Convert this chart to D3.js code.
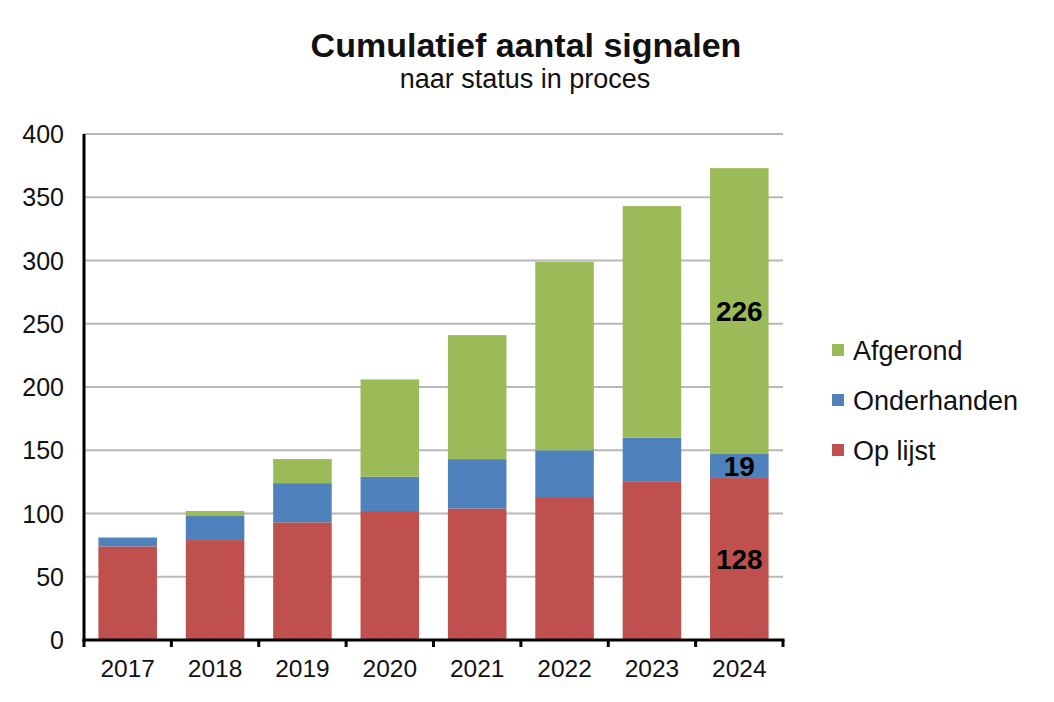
<!DOCTYPE html>
<html><head><meta charset="utf-8">
<script src="https://cdn.jsdelivr.net/npm/d3@7"></script>
<style>body{margin:0;background:#fff}svg{display:block}text{font-family:"Liberation Sans",Arial,sans-serif}</style>
</head><body><svg id="c" width="1054" height="702"></svg>
<script>
const years = ["2017","2018","2019","2020","2021","2022","2023","2024"];
const opLijst = [74, 79, 93, 102, 104, 113, 125, 128];
const onderhanden = [7, 19, 31, 27, 39, 37, 35, 19];
const afgerond = [0, 4, 19, 77, 98, 149, 183, 226];
const seriesNames = ["Op lijst", "Onderhanden", "Afgerond"];
const seriesColors = ["#C0504D", "#4F81BD", "#9BBB59"];
const yTicks = [0, 50, 100, 150, 200, 250, 300, 350, 400];
const labelled = {"2024": true};

const svg = d3.select("#c");
const m = {l: 84, r: 271, t: 134, b: 62};
const W = 1054, H = 702;
const x = d3.scaleBand().domain(years).range([m.l, W - m.r]).paddingInner(0.33).paddingOuter(0.165);
const y = d3.scaleLinear().domain([0, 400]).range([H - m.b, m.t]);

const rows = years.map((yr, i) => ({year: yr, "Op lijst": opLijst[i], "Onderhanden": onderhanden[i], "Afgerond": afgerond[i]}));
const stack = d3.stack().keys(seriesNames)(rows);

// gridlines
svg.append("g").selectAll("line").data(yTicks.filter(d => d > 0)).join("line")
  .attr("x1", m.l).attr("x2", W - m.r).attr("y1", d => y(d)).attr("y2", d => y(d))
  .attr("stroke", "#b8b8b8").attr("stroke-width", 2);

// bars
stack.forEach((s, si) => {
  svg.append("g").attr("fill", seriesColors[si]).selectAll("rect").data(s).join("rect")
    .attr("x", d => x(d.data.year)).attr("width", x.bandwidth())
    .attr("y", d => y(d[1])).attr("height", d => y(d[0]) - y(d[1]));
  svg.append("g").selectAll("text").data(s.filter(d => labelled[d.data.year])).join("text")
    .attr("x", d => x(d.data.year) + x.bandwidth() / 2)
    .attr("y", d => (y(d[0]) + y(d[1])) / 2)
    .attr("dy", "0.36em").attr("text-anchor", "middle")
    .attr("font-size", 28).attr("font-weight", "bold").attr("fill", "#000")
    .text(d => d[1] - d[0]);
});

// axes
svg.append("line").attr("x1", m.l).attr("x2", m.l).attr("y1", m.t).attr("y2", H - m.b + 1.5)
  .attr("stroke", "#000").attr("stroke-width", 3);
svg.append("line").attr("x1", m.l - 1.5).attr("x2", W - m.r + 1.5).attr("y1", H - m.b).attr("y2", H - m.b)
  .attr("stroke", "#000").attr("stroke-width", 3);
const bounds = d3.range(years.length + 1).map(i => m.l + i * (W - m.r - m.l) / years.length);
svg.append("g").selectAll("line").data(bounds).join("line")
  .attr("x1", d => d).attr("x2", d => d).attr("y1", H - m.b).attr("y2", H - m.b + 7)
  .attr("stroke", "#000").attr("stroke-width", 3);

// y labels
svg.append("g").selectAll("text").data(yTicks).join("text")
  .attr("x", 64).attr("y", d => y(d)).attr("dy", "0.36em").attr("text-anchor", "end")
  .attr("font-size", 25).attr("fill", "#111").text(d => d);
// x labels
svg.append("g").selectAll("text").data(years).join("text")
  .attr("x", d => x(d) + x.bandwidth() / 2).attr("y", H - m.b + 37).attr("text-anchor", "middle")
  .attr("font-size", 24.5).attr("fill", "#111").text(d => d);

// title
svg.append("text").attr("x", 526).attr("y", 57).attr("text-anchor", "middle")
  .attr("font-size", 34).attr("font-weight", "bold").attr("fill", "#111").text("Cumulatief aantal signalen");
svg.append("text").attr("x", 525).attr("y", 88).attr("text-anchor", "middle")
  .attr("font-size", 27).attr("fill", "#111").text("naar status in proces");

// legend
const legendOrder = [2, 1, 0];
const lg = svg.append("g").selectAll("g").data(legendOrder).join("g")
  .attr("transform", (d, i) => `translate(832, ${350 + i * 50})`);
lg.append("rect").attr("x", 0).attr("y", -6).attr("width", 12).attr("height", 12).attr("fill", d => seriesColors[d]);
lg.append("text").attr("x", 21).attr("y", 0).attr("dy", "0.36em").attr("font-size", 27).attr("fill", "#111")
  .text(d => seriesNames[d]);
</script></body></html>
